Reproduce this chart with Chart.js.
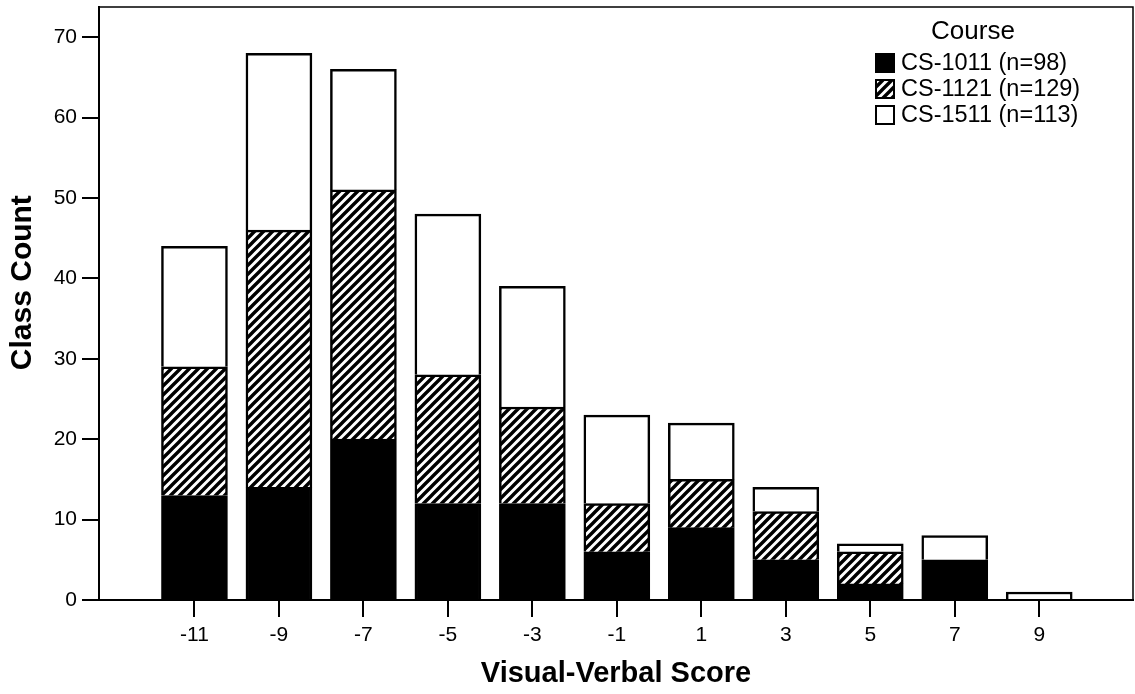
<!DOCTYPE html>
<html>
<head>
<meta charset="utf-8">
<script src="https://cdn.jsdelivr.net/npm/chart.js@4.4.1/dist/chart.umd.min.js"></script>
<style>
  body { margin: 0; background: #fff; }
  #wrap { width: 1135px; height: 694px; }
</style>
</head>
<body>
<div id="wrap"><canvas id="my_chart" width="1135" height="694"></canvas></div>
<script>
// visual-verbal score bins
const scores = [-11, -9, -7, -5, -3, -1, 1, 3, 5, 7, 9];
const score_ticks = [-11, -9, -7, -5, -3, -1, 1, 3, 5, 7, 9];
const y_ticks = [0, 10, 20, 30, 40, 50, 60, 70];

const course_labels = ['CS-1011 (n=98)', 'CS-1121 (n=129)', 'CS-1511 (n=113)'];
const cs1011 = [13, 14, 20, 12, 12, 6, 9, 5, 2, 5, 0];
const cs1121 = [16, 32, 31, 16, 12, 6, 6, 6, 4, 0, 0];
const cs1511 = [15, 22, 15, 20, 15, 11, 7, 3, 1, 3, 1];

const font_family = '"Liberation Sans", Arial, sans-serif';

function make_hatch() {
    const s = 9;
    const c = document.createElement('canvas');
    c.width = s; c.height = s;
    const g = c.getContext('2d');
    g.fillStyle = '#fff';
    g.fillRect(0, 0, s, s);
    g.strokeStyle = '#000';
    g.lineWidth = 3.4;
    g.beginPath();
    g.moveTo(0, s); g.lineTo(s, 0);
    g.moveTo(-s / 2, s / 2); g.lineTo(s / 2, -s / 2);
    g.moveTo(s / 2, s * 1.5); g.lineTo(s * 1.5, s / 2);
    g.stroke();
    return g.createPattern(c, 'repeat');
}

const hatch = make_hatch();
const fills = ['#000', hatch, '#fff'];

function to_points(values) {
    return values.map((v, i) => ({ x: scores[i], y: v === 0 ? null : v }));
}

const frame_plugin = {
    id: 'frame',
    afterDraw(chart) {
        const a = chart.chartArea;
        const ctx = chart.ctx;
        ctx.save();
        ctx.strokeStyle = '#000';
        ctx.lineWidth = 1.5;
        ctx.beginPath();
        ctx.moveTo(a.left, a.top);
        ctx.lineTo(a.right, a.top);
        ctx.lineTo(a.right, a.bottom);
        ctx.stroke();

        // legend
        ctx.fillStyle = '#000';
        ctx.textAlign = 'center';
        ctx.textBaseline = 'middle';
        ctx.font = '26px ' + font_family;
        ctx.fillText('Course', 973, 32);
        ctx.textAlign = 'left';
        ctx.font = '23.5px ' + font_family;
        chart.data.datasets.forEach((ds, i) => {
            const y = 63 + i * 26;
            ctx.fillStyle = ds.backgroundColor;
            ctx.fillRect(876, y - 9, 18, 18);
            ctx.strokeStyle = '#000';
            ctx.lineWidth = 2;
            ctx.strokeRect(876, y - 9, 18, 18);
            ctx.fillStyle = '#000';
            ctx.fillText(ds.label, 901, y + 1);
        });
        ctx.restore();
    }
};

const ctx = document.getElementById('my_chart').getContext('2d');
new Chart(ctx, {
    type: 'bar',
    data: {
        datasets: [cs1011, cs1121, cs1511].map((vals, i) => ({
            label: course_labels[i],
            data: to_points(vals),
            backgroundColor: fills[i],
            borderColor: '#000',
            borderWidth: 2.5,
            barThickness: 66
        }))
    },
    options: {
        responsive: false,
        animation: false,
        layout: { padding: { top: 7, right: 2, left: 0, bottom: 0 } },
        plugins: {
            legend: { display: false },
            tooltip: { enabled: false }
        },
        scales: {
            x: {
                type: 'linear',
                stacked: true,
                offset: false,
                min: -13.26,
                max: 11.22,
                afterBuildTicks: scale => { scale.ticks = score_ticks.map(v => ({ value: v })); },
                afterFit: scale => {
                    scale.height = 94;
                    scale.paddingLeft = 0;
                    scale.paddingRight = 0;
                },
                grid: { offset: false, drawOnChartArea: false, tickLength: 17, lineWidth: 2, color: '#000' },
                border: { display: true, color: '#000', width: 2 },
                ticks: {
                    color: '#000',
                    padding: 6,
                    maxRotation: 0,
                    font: { family: font_family, size: 21 },
                    callback: v => String(v)
                },
                title: {
                    display: true,
                    text: 'Visual-Verbal Score',
                    color: '#000',
                    padding: { top: 0, bottom: 3 },
                    font: { family: font_family, size: 29, weight: 'bold' }
                }
            },
            y: {
                stacked: true,
                min: 0,
                max: 73.75,
                afterBuildTicks: scale => { scale.ticks = y_ticks.map(v => ({ value: v })); },
                afterFit: scale => {
                    scale.width = 99;
                    scale.paddingTop = 0;
                    scale.paddingBottom = 0;
                },
                grid: { drawOnChartArea: false, tickLength: 17, lineWidth: 2, color: '#000' },
                border: { display: true, color: '#000', width: 2 },
                ticks: {
                    color: '#000',
                    padding: 5,
                    font: { family: font_family, size: 21 },
                    callback: v => String(v)
                },
                title: {
                    display: true,
                    // leading spaces nudge the rotated title up a bit
                    text: '     Class Count',
                    color: '#000',
                    padding: { top: 5, bottom: 0 },
                    font: { family: font_family, size: 30, weight: 'bold' }
                }
            }
        }
    },
    plugins: [frame_plugin]
});
</script>
</body>
</html>
